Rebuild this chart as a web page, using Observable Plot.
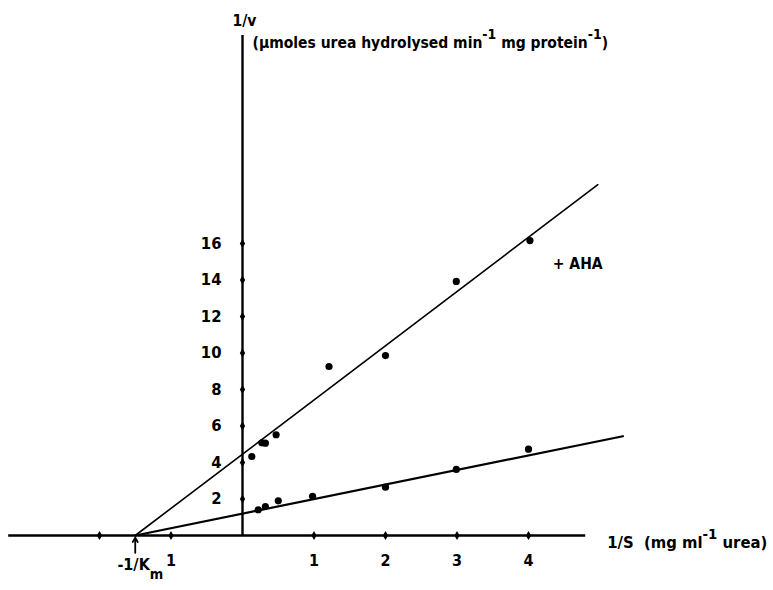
<!DOCTYPE html>
<html><head><meta charset="utf-8">
<script src="https://cdn.jsdelivr.net/npm/d3@7"></script>
<script src="https://cdn.jsdelivr.net/npm/@observablehq/plot@0.6"></script>
<style>body{margin:0;background:#fff} svg{display:block}</style>
</head><body><div id="chart"></div>
<script>
// Control (no inhibitor) data: 1/S and 1/v
const controlS = [0.22, 0.32, 0.50, 0.98, 2.00, 2.99, 4.00];
const controlV = [1.41, 1.59, 1.90, 2.15, 2.65, 3.62, 4.73];
// + AHA data
const ahaS = [0.13, 0.27, 0.32, 0.47, 1.21, 2.00, 2.99, 4.02];
const ahaV = [4.33, 5.08, 5.06, 5.52, 9.26, 9.86, 13.92, 16.16];
// Fitted lines: common intercept at -1/Km, and end points
const kmIntercept = -1.5;
const controlLineEnd = {s: 5.32, v: 5.44};
const ahaLineEnd = {s: 4.97, v: 19.22};
// Axis ticks
const xTicks = [-2, -1, 1, 2, 3, 4];
const xTickLabels = ["", "1", "1", "2", "3", "4"];
const yTicks = [2, 4, 6, 8, 10, 12, 14, 16];
const yTickLabels = ["2", "4", "6", "8", "10", "12", "14", "16"];
// Axis extents
const xAxisExtent = [-3.27, 4.80];
const yAxisExtent = [0, 27.4];
// Texts
const yTitle1 = "1/v";
const yTitle2 = "(µmoles urea hydrolysed min^{-1} mg protein^{-1})";
const xTitle = "1/S  (mg ml^{-1} urea)";
const kmLabel = "-1/K_{m}";
const ahaLabel = "+ AHA";

const font = "'DejaVu Sans Condensed', 'Liberation Sans Narrow', sans-serif";

const controlPts = controlS.map((s, i) => ({s, v: controlV[i]}));
const ahaPts = ahaS.map((s, i) => ({s, v: ahaV[i]}));
const controlLine = [{s: kmIntercept, v: 0}, controlLineEnd];
const ahaLine = [{s: kmIntercept, v: 0}, ahaLineEnd];
const xTickData = xTicks.map((t, i) => ({t, label: xTickLabels[i]}));
const yTickData = yTicks.map((t, i) => ({t, label: yTickLabels[i]}));

const txt = {textAnchor: "start", fontSize: 15.5, fontWeight: "bold", fill: "#000"};

const plot = Plot.plot({
  width: 773, height: 590,
  marginTop: 0, marginBottom: 0, marginLeft: 0, marginRight: 0,
  x: {domain: [-242 / 71.5, (773 - 242) / 71.5], axis: null},
  y: {domain: [(535 - 590) / 18.25, 535 / 18.25], axis: null},
  style: {fontFamily: font, background: "#fff", color: "#000"},
  marks: [
    // axes
    Plot.ruleY([0], {x1: xAxisExtent[0], x2: xAxisExtent[1], stroke: "#000", strokeWidth: 2.4}),
    Plot.ruleX([0], {y1: yAxisExtent[0], y2: yAxisExtent[1], stroke: "#000", strokeWidth: 2.4}),
    Plot.dot(xTickData, {x: "t", y: 0, r: 2.8, fill: "#000", symbol: "diamond"}),
    Plot.dot(yTickData, {x: 0, y: "t", r: 2.8, fill: "#000", symbol: "diamond"}),
    Plot.text(xTickData, {x: "t", y: 0, text: "label", dy: 25, fontSize: 16, fontWeight: "bold", fill: "#000"}),
    Plot.text(yTickData, {x: 0, y: "t", text: "label", dx: -21, textAnchor: "end", fontSize: 16.5, fontWeight: "bold", fill: "#000"}),
    // fitted lines
    Plot.line(ahaLine, {x: "s", y: "v", stroke: "#000", strokeWidth: 1.6}),
    Plot.line(controlLine, {x: "s", y: "v", stroke: "#000", strokeWidth: 2.2}),
    // data
    Plot.dot(controlPts, {x: "s", y: "v", r: 3.6, fill: "#000"}),
    Plot.dot(ahaPts, {x: "s", y: "v", r: 3.6, fill: "#000"}),
    // -1/Km arrow
    Plot.arrow([{s: kmIntercept}], {x1: "s", x2: "s", y1: -0.95, y2: -0.12, stroke: "#000", strokeWidth: 1.8, headLength: 7}),
    // annotations
    Plot.text([yTitle1], {x: -0.14, y: 28.2, text: d => d, ...txt}),
    Plot.text([yTitle2], {x: 0.14, y: 26.96, text: d => d, ...txt}),
    Plot.text([xTitle], {x: 5.10, y: -0.38, text: d => d, ...txt, fontSize: 16.5}),
    Plot.text([kmLabel], {x: -1.75, y: -1.6, text: d => d, ...txt, fontSize: 16}),
    Plot.text([ahaLabel], {x: 4.34, y: 14.9, text: d => d, ...txt})
  ]
});

// convert ^{..} and _{..} into raised / lowered tspans
function richify(svg) {
  const NS = "http://www.w3.org/2000/svg";
  svg.querySelectorAll("text").forEach(t => {
    const s = t.textContent;
    if (!/[\^_]\{/.test(s)) return;
    t.textContent = "";
    const re = /([\^_])\{([^}]*)\}|([^\^_]+)/g;
    let m, cur = 0;
    while ((m = re.exec(s))) {
      const ts = document.createElementNS(NS, "tspan");
      let target;
      if (m[3] !== undefined) { ts.textContent = m[3]; target = 0; }
      else { ts.textContent = m[2]; target = m[1] === "^" ? -9 : 9; ts.setAttribute("font-size", "0.9em"); }
      ts.setAttribute("dy", target - cur);
      cur = target;
      t.appendChild(ts);
    }
  });
}
richify(plot);
document.getElementById("chart").appendChild(plot);
</script></body></html>
